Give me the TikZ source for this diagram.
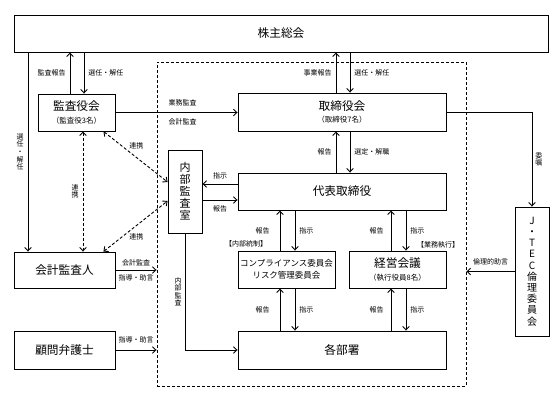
\documentclass[tikz,border=0pt]{standalone}
\usepackage{fontspec}
\setmainfont{Noto Sans CJK JP}
\usetikzlibrary{arrows.meta, positioning}

\begin{document}
\begin{tikzpicture}[
  x=1pt, y=-1pt,
  line width=0.9pt,
  box/.style    = {rectangle, draw, align=center, inner sep=1pt,
                   font=\fontsize{11.7}{14}\selectfont},
  tate/.style   = {box, font=\fontsize{11}{12}\selectfont},
  lbl/.style    = {inner sep=1pt, align=center, font=\fontsize{7}{7.6}\selectfont},
  waku/.style   = {rectangle, draw, dash pattern=on 3pt off 2pt, inner sep=0pt},
  arr/.style    = {-{Straight Barb[length=3.5pt, width=6.5pt]}},
  renkei/.style = {{Straight Barb[length=3.5pt, width=6.5pt]}-{Straight Barb[length=3.5pt, width=6.5pt]},
                   dash pattern=on 3pt off 2pt},
]
  \useasboundingbox (0,0) rectangle (558,396);

  % Shareholders
  \node[box, minimum width=534pt, minimum height=37pt] (soukai) at (281,33.5) {株主総会};

  % Company frame
  \node[waku, minimum width=309pt, minimum height=324pt] (waku) at (311.5,224) {};

  % Boxes
  \node[box, minimum width=77pt, minimum height=37pt] (kansa) at (76.5,112.5)
    {監査役会\\[-1.5pt]{\fontsize{7.5}{9}\selectfont （監査役3名）}};
  \node[box, minimum width=208pt, minimum height=38pt] (torishimari) at (342,112)
    {取締役会\\[-1.5pt]{\fontsize{7.5}{9}\selectfont （取締役7名）}};
  \node[box, minimum width=208pt, minimum height=37pt] (daihyo) at (342,191.5) {代表取締役};
  \node[tate, minimum width=34pt, minimum height=83pt] (naibu) at (185,191.5) {内\\部\\監\\査\\室};
  \node[box, minimum width=97pt, minimum height=37pt, font=\fontsize{8.5}{12}\selectfont] (comp) at (286.5,269.5)
    {コンプライアンス委員会\\リスク管理委員会};
  \node[box, minimum width=97pt, minimum height=37pt] (keiei) at (397.5,269.5)
    {経営会議\\[-1.5pt]{\fontsize{7.5}{9}\selectfont （執行役員8名）}};
  \node[box, minimum width=208pt, minimum height=38pt] (kakubu) at (342,350) {各部署};
  \node[box, minimum width=101pt, minimum height=36pt] (kaikei) at (64.5,270) {会計監査人};
  \node[box, minimum width=101pt, minimum height=38pt] (bengo) at (64.5,350) {顧問弁護士};
  \node[tate, minimum width=34pt, minimum height=129pt, font=\fontsize{10}{11.2}\selectfont] (jtec) at (532,271.5)
    {J\\・\\T\\E\\C\\倫\\理\\委\\員\\会};

  % Shareholders <-> boards
  \draw[arr] ([xshift=-6.5pt]kansa.north) -- node[lbl, left=3pt]{監査報告} ([xshift=-6.5pt]kansa.north |- soukai.south);
  \draw[arr] ([xshift=7.5pt]kansa.north |- soukai.south) -- node[lbl, right=3pt]{選任・解任} ([xshift=7.5pt]kansa.north);
  \draw[arr] ([xshift=-6pt]torishimari.north) -- node[lbl, left=3pt]{事業報告} ([xshift=-6pt]torishimari.north |- soukai.south);
  \draw[arr] ([xshift=8pt]torishimari.north |- soukai.south) -- node[lbl, right=3pt]{選任・解任} ([xshift=8pt]torishimari.north);
  \draw[arr] ([xshift=-36.5pt]kaikei.north |- soukai.south) -- node[lbl, left=3pt]{選\\任\\・\\解\\任} ([xshift=-36.5pt]kaikei.north);

  % Board
  \draw[arr] (kansa.east) -- node[lbl, pos=0.55, above=5pt]{業務監査} node[lbl, pos=0.55, below=5pt]{会計監査} (kansa.east -| torishimari.west);
  \draw[arr] (torishimari.east) -| node[lbl, pos=0.75, right=2pt]{委\\嘱} (jtec.north);
  \draw[arr] ([xshift=-6pt]daihyo.north) -- node[lbl, left=3pt]{報告} ([xshift=-6pt]torishimari.south);
  \draw[arr] ([xshift=8pt]torishimari.south) -- node[lbl, right=3pt]{選定・解職} ([xshift=8pt]daihyo.north);

  % Internal audit
  \draw[arr] ([yshift=7.5pt]daihyo.west) -- node[lbl, above=3.5pt]{指示} ([yshift=7.5pt]daihyo.west -| naibu.east);
  \draw[arr] ([yshift=-8.5pt]daihyo.west -| naibu.east) -- node[lbl, below=4.5pt]{報告} ([yshift=-8.5pt]daihyo.west);
  \draw[arr] (naibu.south) |- node[lbl, pos=0.25, left=2pt]{内\\部\\監\\査} (kakubu.west);
  \draw[renkei] ([xshift=-12pt]kansa.south east) -- node[lbl, pos=0.38, above right]{連携} ([yshift=9.5pt]naibu.west);
  \draw[renkei] ([xshift=-12pt]kaikei.north east) -- node[lbl, pos=0.38, below right]{連携} ([yshift=-9.5pt]naibu.west);
  \draw[renkei] ([xshift=6.5pt]kansa.south) -- node[lbl, left=3pt]{連\\携} ([xshift=6.5pt]kansa.south |- kaikei.north);

  % Execution
  \draw[arr] ([xshift=-6.5pt]comp.north) -- node[lbl, left=9pt]{報告} ([xshift=-6.5pt]comp.north |- daihyo.south);
  \draw[arr] ([xshift=8.5pt]comp.north |- daihyo.south) -- node[lbl, right=3pt]{指示} ([xshift=8.5pt]comp.north);
  \draw[arr] ([xshift=-6.5pt]keiei.north) -- node[lbl, left=6pt]{報告} ([xshift=-6.5pt]keiei.north |- daihyo.south);
  \draw[arr] ([xshift=8.5pt]keiei.north |- daihyo.south) -- node[lbl, right=3pt]{指示} ([xshift=8.5pt]keiei.north);
  \draw[arr] ([xshift=-6.5pt]comp.south |- kakubu.north) -- node[lbl, left=9pt]{報告} ([xshift=-6.5pt]comp.south);
  \draw[arr] ([xshift=8.5pt]comp.south) -- node[lbl, right=3pt]{指示} ([xshift=8.5pt]comp.south |- kakubu.north);
  \draw[arr] ([xshift=-6.5pt]keiei.south |- kakubu.north) -- node[lbl, left=6pt]{報告} ([xshift=-6.5pt]keiei.south);
  \draw[arr] ([xshift=8.5pt]keiei.south) -- node[lbl, right=3pt]{指示} ([xshift=8.5pt]keiei.south |- kakubu.north);
  \node[lbl, anchor=south west] (tousei) at ([xshift=-14pt, yshift=2pt]comp.north west) {【内部統制】};
  \node[lbl, anchor=south east] (shikkou) at ([xshift=14pt, yshift=1pt]keiei.north east) {【業務執行】};

  % Outside advisers
  \draw[arr] (kaikei.east) -- node[lbl, above=2pt]{会計監査} node[lbl, below=3pt]{指導・助言} (kaikei.east -| waku.west);
  \draw[arr] (bengo.east) -- node[lbl, above=5pt]{指導・助言} (bengo.east -| waku.west);
  \draw[arr] (jtec.west) -- node[lbl, above=5pt]{倫理的助言} (jtec.west -| waku.east);
\end{tikzpicture}
\end{document}
